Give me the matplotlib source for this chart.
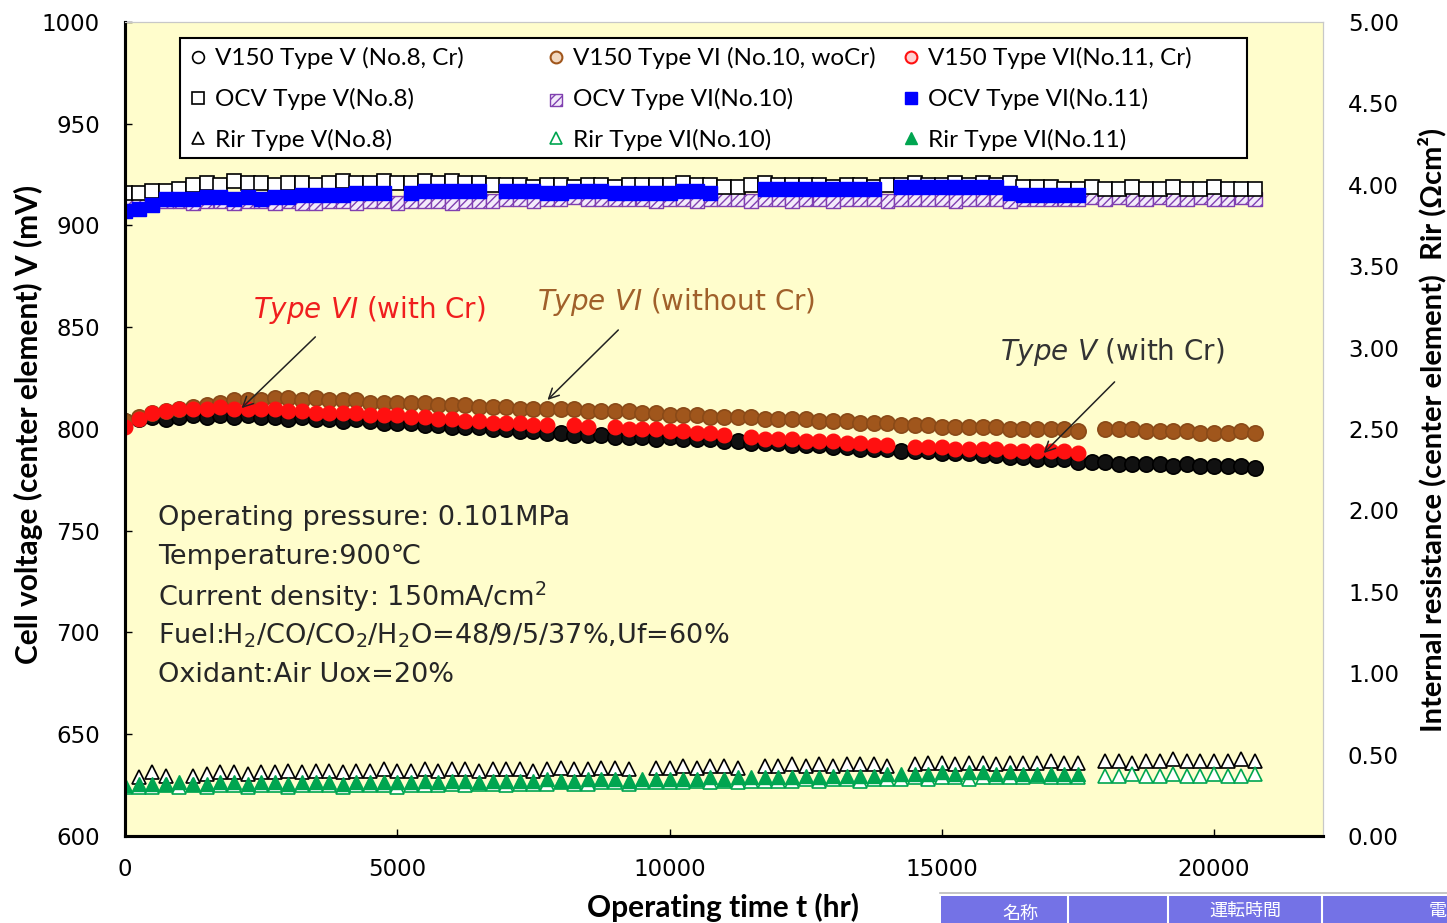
import numpy as np
import matplotlib.pyplot as plt
from matplotlib.lines import Line2D
from matplotlib.patches import Rectangle
from matplotlib.legend import Legend

nan = np.nan

# ---------------------------------------
# Data (one point every 250 hr)
# ---------------------------------------

hours = [
    0, 250, 500, 750, 1000, 1250, 1500, 1750, 2000, 2250, 2500, 2750,
    3000, 3250, 3500, 3750, 4000, 4250, 4500, 4750, 5000, 5250, 5500, 5750,
    6000, 6250, 6500, 6750, 7000, 7250, 7500, 7750, 8000, 8250, 8500, 8750,
    9000, 9250, 9500, 9750, 10000, 10250, 10500, 10750, 11000, 11250, 11500, 11750,
    12000, 12250, 12500, 12750, 13000, 13250, 13500, 13750, 14000, 14250, 14500, 14750,
    15000, 15250, 15500, 15750, 16000, 16250, 16500, 16750, 17000, 17250, 17500, 17750,
    18000, 18250, 18500, 18750, 19000, 19250, 19500, 19750, 20000, 20250, 20500, 20750,
]

# cell voltage at 150 mA/cm2 (mV)
v150_type5 = [
    804, 805, 806, 805, 806, 807, 806, 807, 806, 807, 806, 806,
    805, 806, 805, 805, 804, 805, 804, 803, 803, 803, 802, 802,
    801, 801, 801, 800, 800, 799, 799, 798, 798, 797, 797, 797,
    796, 796, 796, 795, 796, 795, 795, 795, 794, 794, 793, 793,
    793, 792, 792, 792, 791, 791, 790, 790, 790, 789, 789, 789,
    788, 788, 788, 787, 787, 786, 786, 785, 785, 785, 784, 784,
    784, 783, 783, 783, 783, 782, 783, 782, 782, 782, 782, 781,
]
v150_type6_wocr = [
    804, 806, 808, 809, 810, 811, 812, 813, 814, 814, 814, 815,
    815, 814, 815, 814, 814, 814, 813, 813, 813, 813, 813, 812,
    812, 812, 811, 811, 811, 810, 810, 810, 810, 810, 809, 809,
    809, 809, 808, 808, 807, 807, 807, 806, 806, 806, 806, 805,
    805, 805, 805, 804, 804, 804, 803, 803, 803, 802, 802, 802,
    801, 801, 801, 801, 801, 800, 800, 800, 800, 800, 799, nan,
    800, 800, 800, 799, 799, 799, 799, 798, 798, 798, 799, 798,
]
v150_type6_cr = [
    801, 805, 808, 809, 810, 810, 810, 811, 810, 810, 810, 810,
    809, 809, 808, 808, 808, 808, 807, 807, 807, 806, 806, 805,
    805, 804, 804, 803, 803, 803, 802, 802, nan, 802, 801, nan,
    801, 800, 800, 800, 799, 799, 798, 798, 797, nan, 796, 795,
    795, 795, 794, 794, 794, 793, 793, 792, 792, nan, 791, 791,
    791, 790, 790, 790, 790, 789, 789, 789, 789, 789, 788, nan,
    nan, nan, nan, nan, nan, nan, nan, nan, nan, nan, nan, nan,
]

# open circuit voltage (mV)
ocv_type5 = [
    916, 916, 917, 917, 918, 920, 921, 920, 922, 921, 921, 920,
    921, 921, 920, 921, 922, 921, 921, 922, 921, 921, 922, 921,
    922, 921, 921, 920, 920, 920, 919, 920, 920, 919, 920, 920,
    919, 920, 920, 920, 920, 921, 920, 920, 919, 919, 920, 921,
    920, 920, 920, 920, 919, 920, 920, 919, 920, 920, 921, 920,
    920, 921, 920, 921, 920, 921, 919, 919, 919, 918, 918, 919,
    918, 918, 919, 918, 918, 919, 918, 918, 919, 918, 918, 918,
]
ocv_type6_wocr = [
    910, 911, 911, 912, 912, 911, 912, 912, 911, 912, 912, 911,
    912, 911, 911, 912, 912, 911, 912, 912, 911, 912, 912, 912,
    911, 912, 912, 912, 913, 913, 912, 913, 913, 914, 913, 913,
    913, 913, 913, 912, 913, 913, 912, 913, 913, 913, 912, 913,
    913, 912, 913, 913, 912, 913, 913, 913, 912, 913, 913, 913,
    913, 912, 913, 913, 913, 912, 913, 913, 913, 913, 913, 914,
    913, 914, 913, 913, 914, 913, 913, 914, 913, 913, 914, 913,
]
ocv_type6_cr = [
    907, 908, 910, 913, 913, 913, 914, 914, 913, 914, 913, 914,
    914, 915, 915, 915, 915, 916, 916, 916, nan, 916, 917, 917,
    917, 917, 917, nan, 917, 917, 917, 916, 916, 917, 917, 917,
    916, 916, 916, 916, 916, 917, 917, 916, nan, nan, nan, 918,
    918, 918, 918, 918, 918, 918, 918, 918, nan, 919, 919, 919,
    919, 919, 919, 919, 919, 916, 915, 915, 915, 915, 915, nan,
    nan, nan, nan, nan, nan, nan, nan, nan, nan, nan, nan, nan,
]

# internal resistance (ohm cm2)
rir_type5 = [
    nan, 0.36, 0.39, 0.37, nan, 0.37, 0.38, 0.39, 0.39, 0.38, 0.39, 0.39,
    0.40, 0.39, 0.40, 0.40, 0.39, 0.40, 0.40, 0.41, 0.40, 0.40, 0.41, 0.40,
    0.41, 0.41, 0.40, 0.41, 0.41, 0.41, 0.40, 0.41, 0.42, 0.41, 0.41, 0.42,
    0.42, 0.41, nan, 0.42, 0.42, 0.43, 0.42, 0.43, 0.43, 0.42, nan, 0.43,
    0.43, 0.44, 0.43, 0.44, 0.43, 0.44, 0.44, 0.44, 0.43, nan, 0.44, 0.45,
    0.45, 0.44, 0.45, 0.45, 0.44, 0.45, 0.45, 0.45, 0.46, 0.45, 0.45, nan,
    0.46, 0.46, 0.45, 0.46, 0.46, 0.47, 0.46, 0.46, 0.46, 0.46, 0.47, 0.46,
]
rir_type6_wocr = [
    0.30, 0.30, 0.30, 0.31, 0.30, 0.31, 0.30, 0.31, 0.31, 0.30, 0.31, 0.31,
    0.30, 0.31, 0.31, 0.31, 0.30, 0.31, 0.31, 0.31, 0.30, 0.31, 0.31, 0.31,
    0.32, 0.31, 0.32, 0.32, 0.31, 0.32, 0.32, 0.32, 0.33, 0.32, 0.32, 0.33,
    0.33, 0.32, 0.33, 0.33, 0.33, 0.33, 0.34, 0.33, 0.34, 0.33, 0.34, 0.34,
    0.34, 0.34, 0.35, 0.34, 0.35, 0.35, 0.34, 0.35, 0.35, 0.35, 0.36, 0.35,
    0.36, 0.36, 0.35, 0.36, 0.36, 0.36, 0.36, 0.37, 0.36, 0.36, 0.36, nan,
    0.37, 0.37, 0.38, 0.37, 0.37, 0.38, 0.37, 0.37, 0.38, 0.37, 0.37, 0.38,
]
rir_type6_cr = [
    0.31, 0.32, 0.32, 0.32, 0.33, 0.32, 0.32, 0.33, 0.33, 0.32, 0.33, 0.33,
    0.32, 0.33, 0.33, 0.33, 0.32, 0.33, 0.33, 0.33, 0.33, 0.33, 0.34, 0.33,
    0.34, 0.34, 0.33, 0.34, 0.34, 0.34, 0.34, 0.35, 0.34, 0.34, 0.35, 0.35,
    0.35, 0.34, 0.35, 0.35, 0.35, 0.35, 0.35, 0.36, 0.35, 0.36, 0.36, 0.36,
    0.36, 0.36, 0.37, 0.36, 0.37, 0.37, 0.37, 0.37, 0.38, 0.38, 0.38, 0.38,
    0.39, 0.38, 0.39, 0.39, 0.38, 0.39, 0.38, 0.38, 0.38, 0.38, 0.38, nan,
    nan, nan, nan, nan, nan, nan, nan, nan, nan, nan, nan, nan,
]

legend_labels = [
    "V150 Type V (No.8, Cr)", "V150 Type VI (No.10, woCr)", "V150 Type VI(No.11, Cr)",
    "OCV Type V(No.8)", "OCV Type VI(No.10)", "OCV Type VI(No.11)",
    "Rir Type V(No.8)", "Rir Type VI(No.10)", "Rir Type VI(No.11)",
]

condition_lines = [
    "Operating pressure: 0.101MPa",
    "Temperature:900\u2103",
    "Current density: 150mA/cm$^2$",
    "Fuel:H$_2$/CO/CO$_2$/H$_2$O=48/9/5/37%,Uf=60%",
    "Oxidant:Air Uox=20%",
]

# ---------------------------------------
# Colours
# ---------------------------------------

BROWN = "#A0561C"
PURPLE = "#8040B0"
GREEN = "#00A550"
BG = "#FFFDCC"

# ---------------------------------------
# Figure
# ---------------------------------------

plt.rcParams["font.family"] = ["DejaVu Sans"]
plt.rcParams["hatch.linewidth"] = 1.0

fig = plt.figure(figsize=(14.47, 9.23), dpi=100)
ax = fig.add_axes([0.0864, 0.0943, 0.8279, 0.8819])
ax.set_facecolor(BG)
ax2 = ax.twinx()

t = np.array(hours, dtype=float)

# cell voltage
ax.plot(t, np.array(v150_type5, float), ls="none", marker="o", ms=11,
        mfc="#111111", mec="black", mew=1.2)
ax.plot(t, np.array(v150_type6_wocr, float), ls="none", marker="o", ms=11,
        mfc=BROWN, mec="#8A4A18", mew=1.2)
ax.plot(t, np.array(v150_type6_cr, float), ls="none", marker="o", ms=10.5,
        mfc="#FF1010", mec="#FF1010", mew=1.0)

# OCV
ax.plot(t, np.array(ocv_type5, float), ls="none", marker="s", ms=10,
        mfc="white", mec="black", mew=1.2)
ax.scatter(t, np.array(ocv_type6_wocr, float), marker="s", s=95,
           facecolor="#F3EAFB", edgecolor=PURPLE, hatch="////", linewidths=1.0)
ax.plot(t, np.array(ocv_type6_cr, float), ls="none", marker="s", ms=10.5,
        mfc="#0000FF", mec="#0000FF", mew=1.0)

# internal resistance (right axis)
ax2.plot(t, np.array(rir_type5, float), ls="none", marker="^", ms=9.5,
         mfc="white", mec="black", mew=1.2)
ax2.plot(t, np.array(rir_type6_wocr, float), ls="none", marker="^", ms=9.5,
         mfc="white", mec=GREEN, mew=1.2)
ax2.plot(t, np.array(rir_type6_cr, float), ls="none", marker="^", ms=9.5,
         mfc=GREEN, mec=GREEN, mew=1.0)

# ---------------------------------------
# Axes
# ---------------------------------------

ax.set_xlim(0, 22000)
ax.set_ylim(600, 1000)
ax2.set_ylim(0, 5)
ax.set_xticks([0, 5000, 10000, 15000, 20000])
ax.set_yticks(np.arange(600, 1001, 50))
ax2.set_yticks(np.arange(0, 5.01, 0.5))
ax2.set_yticklabels([f"{v:.2f}" for v in np.arange(0, 5.01, 0.5)])

ax.tick_params(axis="y", direction="in", length=5, width=1, labelsize=16.5, pad=18)
ax.tick_params(axis="x", direction="in", length=5, width=1, labelsize=16.5, pad=16)
ax2.tick_params(axis="y", length=0, labelsize=16.5, pad=18)

for a in (ax, ax2):
    a.spines["left"].set_linewidth(2.2)
    a.spines["bottom"].set_linewidth(2.2)
    a.spines["top"].set_color("#C8C8C8")
    a.spines["right"].set_color("#C8C8C8")
    a.spines["top"].set_linewidth(0.8)
    a.spines["right"].set_linewidth(0.8)

fig.text(28 / 1447, 1 - 424 / 923, "Cell voltage (center element) V (mV)",
         rotation=90, ha="center", va="center", fontsize=21.5,
         fontweight="bold", family="Lato")
fig.text(1432 / 1447, 1 - 430 / 923,
         "Internal resistance (center element)  Rir (\u03a9cm\u00b2)",
         rotation=90, ha="center", va="center", fontsize=21,
         fontweight="bold", family="Lato")
fig.text(723 / 1447, 1 - 907 / 923, "Operating time t (hr)",
         ha="center", va="center", fontsize=21.5, fontweight="bold", family="Lato")

# ---------------------------------------
# Annotations
# ---------------------------------------

ax.text(2342, 858.5, r"$\mathit{Type\ VI}$ (with Cr)", color="#F01E1E",
        fontsize=20, ha="left", va="center")
ax.text(7558, 862.4, r"$\mathit{Type\ VI}$ (without Cr)", color="#A0602A",
        fontsize=20, ha="left", va="center")
ax.text(16067, 837.8, r"$\mathit{Type\ V}$ (with Cr)", color="#333333",
        fontsize=20, ha="left", va="center")

arrow = dict(arrowstyle="->", lw=1.1, color="#222222", mutation_scale=18)
ax.annotate("", xy=(2104, 809.3), xytext=(3532, 846.2), arrowprops=arrow)
ax.annotate("", xy=(7722, 813.3), xytext=(9095, 849.6), arrowprops=arrow)
ax.annotate("", xy=(16836, 787.2), xytext=(18209, 824.1), arrowprops=arrow)

line_y = [756.3, 737.1, 717.4, 698.3, 679.1]
for txt, yv in zip(condition_lines, line_y):
    ax.text(604, yv, txt, fontsize=19.5, color="#262626", ha="left", va="center")

# ---------------------------------------
# Legend (three fixed-width columns inside one frame)
# ---------------------------------------

lk = dict(ls="none", ms=8.5)
h_v5 = Line2D([], [], marker="o", mfc="white", mec="black", mew=1.2, **lk)
h_v6w = Line2D([], [], marker="o", mfc="#F2D8C0", mec=BROWN, mew=1.5, **lk)
h_v6c = Line2D([], [], marker="o", mfc="#FFD0D0", mec="#FF1010", mew=1.5, **lk)
h_o5 = Line2D([], [], marker="s", mfc="white", mec="black", mew=1.2, **lk)
h_o6w = ax2.scatter([], [], marker="s", s=72, facecolor="#F3EAFB",
                    edgecolor=PURPLE, hatch="////", linewidths=1.0)
h_o6c = Line2D([], [], marker="s", mfc="#0000FF", mec="#0000FF", **lk)
h_r5 = Line2D([], [], marker="^", mfc="white", mec="black", mew=1.2, **lk)
h_r6w = Line2D([], [], marker="^", mfc="white", mec=GREEN, mew=1.2, **lk)
h_r6c = Line2D([], [], marker="^", mfc=GREEN, mec=GREEN, **lk)

frame = Rectangle((0.0459, 0.8329), 0.8907, 0.1474, transform=ax2.transAxes,
                  facecolor="white", edgecolor="black", lw=1.5, zorder=4,
                  clip_on=False)
ax2.add_patch(frame)

columns = [
    ([h_v5, h_o5, h_r5], [legend_labels[i] for i in (0, 3, 6)], 0.0526),
    ([h_v6w, h_o6w, h_r6w], [legend_labels[i] for i in (1, 4, 7)], 0.3515),
    ([h_v6c, h_o6c, h_r6c], [legend_labels[i] for i in (2, 5, 8)], 0.6480),
]
for hs, ls_, x0 in columns:
    lg = Legend(ax2, hs, ls_, loc="upper left", bbox_to_anchor=(x0, 0.9688),
                borderaxespad=0, borderpad=0, frameon=False,
                prop={"family": "Lato", "size": 17.5},
                handlelength=0.8, handletextpad=0.3, labelspacing=0.76,
                scatterpoints=1)
    lg.set_zorder(5)
    ax2.add_artist(lg)

# ---------------------------------------
# Table header fragment (bottom right)
# ---------------------------------------

W, H = 1447, 923
fig.add_artist(Line2D([940 / W, 1], [1 - 893 / H] * 2, color="#BBBBBB", lw=1.2))
fig.add_artist(Rectangle((941 / W, 0), (W - 941) / W, 27 / H,
                         transform=fig.transFigure, color="#7472E6", lw=0))
for xs in (1068, 1168, 1322):
    fig.add_artist(Line2D([xs / W] * 2, [0, 27 / H], color="white", lw=1.5))

cjk = ["Noto Sans CJK JP", "DejaVu Sans"]
fig.text(1245 / W, 1 - 911 / H, "運転時間", color="white", fontsize=13,
         ha="center", va="center", family=cjk)
fig.text(1438 / W, 1 - 911 / H, "電", color="white", fontsize=13,
         ha="center", va="center", family=cjk)
fig.text(1020 / W, 1 - 914 / H, "名称", color="white", fontsize=13,
         ha="center", va="center", family=cjk)

fig.savefig("out.png", dpi=100)
